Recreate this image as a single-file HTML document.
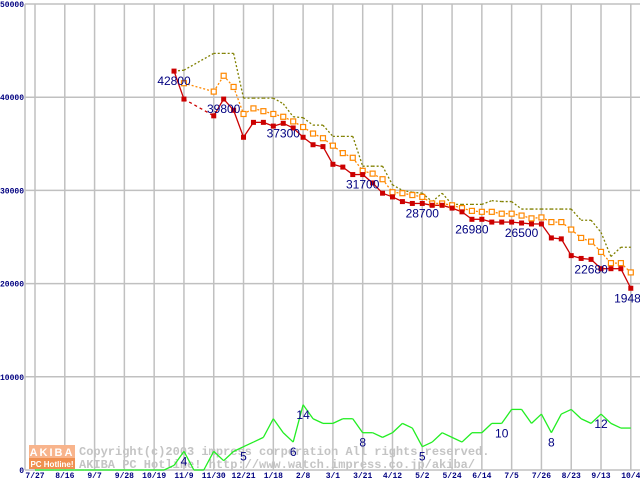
<!DOCTYPE html>
<html><head><meta charset="utf-8"><style>
html,body{margin:0;padding:0;background:#fff;width:640px;height:480px;overflow:hidden}
svg{display:block}
.ax{font-family:"Liberation Mono",monospace;font-weight:bold;font-size:8px;fill:#000080}
.lb{font-family:"Liberation Sans",sans-serif;font-size:12px;fill:#000080}
.wm{font-family:"Liberation Mono",monospace;font-weight:bold;font-size:12px;fill:#c4c4c4}
</style></head><body>
<svg id="chart" width="640" height="480" viewBox="0 0 640 480" xmlns="http://www.w3.org/2000/svg">
<g id="grid"></g>
<g id="watermark">
<rect x="29" y="445" width="46" height="13" fill="#f8b48c"/>
<rect x="29" y="458" width="46" height="11" fill="#f09050"/>
<text x="52" y="456" text-anchor="middle" font-family="Liberation Sans,sans-serif" font-weight="bold" font-size="11" fill="#fff" letter-spacing="2">AKIBA</text>
<text x="52" y="467" text-anchor="middle" font-family="Liberation Sans,sans-serif" font-weight="bold" font-size="8" fill="#fff">PC Hotline!</text>
<text class="wm" x="79" y="455">Copyright(c)2003 impress corporation All rights reserved.</text>
<text class="wm" x="79" y="468">AKIBA PC Hotline! http://www.watch.impress.co.jp/akiba/</text>
</g>
<g id="series"></g>
<g id="labels"></g>
</svg>
<script>
const tickLabels=["7/27","8/16","9/7","9/28","10/19","11/9","11/30","12/21","1/18","2/8","3/1","3/21","4/12","5/2","5/24","6/14","7/5","7/26","8/23","9/13","10/4"];
const yTicks=[0,10000,20000,30000,40000,50000];
const priceWeeks=[14,15,18,19,20,21,22,23,24,25,26,27,28,29,30,31,32,33,34,35,36,37,38,39,40,41,42,43,44,45,46,47,48,49,50,51,52,53,54,55,56,57,58,59,60];
const minPrice=[42800,39800,38000,39800,38600,35700,37300,37300,36900,37200,36700,35700,34900,34700,32800,32500,31700,31700,30800,29700,29300,28800,28600,28600,28400,28400,28100,27700,26900,26900,26600,26600,26600,26500,26400,26400,24900,24800,23000,22700,22600,21600,21600,21600,19500];
const avgPrice=[null,41500,40600,42300,41100,38200,38800,38500,38200,37900,37400,36800,36100,35600,34800,34000,33500,32100,31800,31200,29800,29700,29500,29300,28600,28600,28400,28100,27800,27700,27700,27500,27500,27300,27000,27100,26600,26600,25800,24900,24500,23400,22200,22200,21200];
const maxPrice=[42800,42900,44700,44700,44700,39900,39900,39900,39900,39300,37900,37800,37000,37000,35800,35800,35800,32600,32600,32600,30600,30000,29800,29700,28800,29700,28500,28500,28500,28500,28900,28800,28800,28000,28000,28000,28000,28000,28000,26800,26800,25500,22900,23900,23900];
const shopCounts=[0,0,0,0,0,0,0,0,0,0,0,0,0,0,1,4,0,0,4,2,4,5,6,7,11,8,6,14,11,10,10,11,11,8,8,7,8,10,9,5,6,8,7,6,8,8,10,10,13,13,10,12,8,12,13,11,10,12,10,9,9];
const priceLabelWeeks=[14,19,25,33,39,44,49,56,60];
const priceLabelText=["42800","39800","37300","31700","28700","26980","26500","22680","19480"];
const countLabelWeeks=[15,21,26,27,33,39,47,52,57];
const countLabelText=["4","5","6","14","8","5","10","8","12"];

const NS="http://www.w3.org/2000/svg";
const xs=w=>35+w*9.93;
const ys=v=>470-v*0.00932;
function mk(tag,attrs,parent){const e=document.createElementNS(NS,tag);for(const k in attrs)e.setAttribute(k,attrs[k]);parent.appendChild(e);return e;}
const grid=document.getElementById('grid'),ser=document.getElementById('series'),lab=document.getElementById('labels');
yTicks.forEach(v=>{
  const l=mk('line',{x1:25,x2:640,y1:ys(v),y2:ys(v),stroke:'#c0c0c0','stroke-width':1.5},grid);
  
  
  const t=mk('text',{x:24,y:ys(v)+3,'text-anchor':'end',class:'ax'},grid);t.textContent=String(v);
  
  
});
const al=mk('line',{x1:25,x2:25,y1:4,y2:470,stroke:'#c0c0c0','stroke-width':1.5},grid);


tickLabels.forEach((s,i)=>{
  const x=xs(i*3);
  const l=mk('line',{x1:x,x2:x,y1:4,y2:470,stroke:'#c0c0c0','stroke-width':1.5},grid);
  
  
  const t=mk('text',{x:x,y:478,'text-anchor':'middle',class:'ax'},grid);t.textContent=s;
  
  
});
function drawLine(weeks,vals,color,dash,name){
  for(let i=1;i<weeks.length;i++){
    if(vals[i]==null||vals[i-1]==null)continue;
    const gap=weeks[i]-weeks[i-1]>1;
    const a={x1:xs(weeks[i-1]),y1:ys(vals[i-1]),x2:xs(weeks[i]),y2:ys(vals[i]),stroke:color,'stroke-width':1.3};
    if(dash||gap)a['stroke-dasharray']=gap&&!dash?'3,3':dash;
    const l=mk('line',a,ser);
    
    
  }
}
drawLine(priceWeeks,maxPrice,'#808000','2,2','max-price');
drawLine(priceWeeks,avgPrice,'#ff8800','2,2','avg-price');
drawLine(priceWeeks,minPrice,'#cc0000',null,'min-price');
const cw=shopCounts.map((c,i)=>i);
drawLine(cw,shopCounts.map(c=>c*500),'#22ee22',null,'shop-count');
priceWeeks.forEach((w,i)=>{
  if(avgPrice[i]!=null){const r=mk('rect',{x:xs(w)-2.5,y:ys(avgPrice[i])-2.5,width:5,height:5,fill:'#fff',stroke:'#ff8800','stroke-width':1.2},ser);
  
  }
  const m=mk('rect',{x:xs(w)-2.5,y:ys(minPrice[i])-2.5,width:5,height:5,fill:'#cc0000'},ser);
  
  
});
priceLabelWeeks.forEach((w,i)=>{
  const v=minPrice[priceWeeks.indexOf(w)];
  const t=mk('text',{x:xs(w),y:ys(v)+14,'text-anchor':'middle',class:'lb'},lab);t.textContent=priceLabelText[i];
  
  
});
countLabelWeeks.forEach((w,i)=>{
  const t=mk('text',{x:xs(w),y:ys(shopCounts[w]*500)+14,'text-anchor':'middle',class:'lb'},lab);t.textContent=countLabelText[i];
  
  
});
</script>
</body></html>
